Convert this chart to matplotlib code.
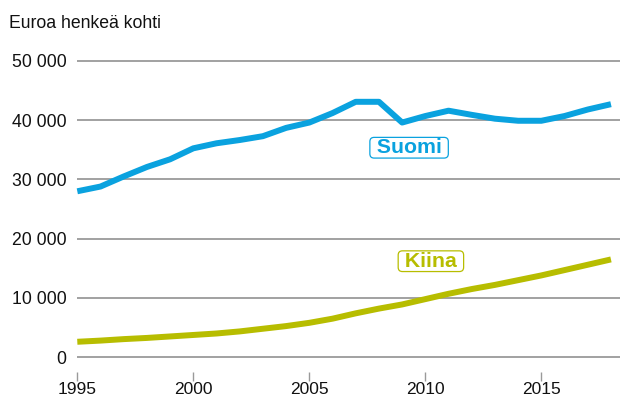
import matplotlib.pyplot as plt

plt.rcParams['font.family'] = ['Liberation Sans', 'DejaVu Sans']

# data (euroa henkeä kohti)
vuodet = list(range(1995, 2019))
suomi = [28.0, 28.8, 30.5, 32.1, 33.4, 35.25, 36.1, 36.65, 37.3, 38.7, 39.6, 41.2,
         43.1, 43.1, 39.6, 40.7, 41.6, 40.9, 40.25, 39.9, 39.9, 40.7, 41.8, 42.7]
kiina = [2.6, 2.8, 3.05, 3.25, 3.5, 3.75, 4.0, 4.35, 4.8, 5.25, 5.8, 6.5,
         7.4, 8.2, 8.9, 9.8, 10.7, 11.5, 12.2, 13.0, 13.8, 14.7, 15.6, 16.5]
suomi = [v * 1000 for v in suomi]
kiina = [v * 1000 for v in kiina]

y_ticks = [0, 10000, 20000, 30000, 40000, 50000]
y_labels = ['0', '10 000', '20 000', '30 000', '40 000', '50 000']
x_ticks = [1995, 2000, 2005, 2010, 2015]

blue = '#0aa2df'
olive = '#b7bd00'
grid_col = '#9a9a9a'

fig = plt.figure(figsize=(6.2, 4.01), dpi=100)
ax = fig.add_axes([77.3 / 620, 1 - 372 / 401, 1 - 77.3 / 620, (372 - 55) / 401])

for y in y_ticks:
    ax.axhline(y, color=grid_col, linewidth=1.3, zorder=1)

ax.plot(vuodet, suomi, color=blue, linewidth=4.3, solid_capstyle='butt', zorder=3, clip_on=False)
ax.plot(vuodet, kiina, color=olive, linewidth=4.3, solid_capstyle='butt', zorder=3, clip_on=False)

ax.set_xlim(1995, 2018.39)
ax.set_ylim(-2500, 51000)

for s in ax.spines.values():
    s.set_visible(False)

ax.set_yticks(y_ticks)
ax.set_yticklabels(y_labels)
ax.tick_params(axis='y', length=0, pad=7.7, labelsize=12.7, labelcolor='#111111')
ax.set_xticks(x_ticks)
ax.tick_params(axis='x', length=6.2, width=1, color=grid_col, pad=0.8, labelsize=12.5, labelcolor='#111111')

# series labels in rounded boxes
ax.text(2009.3, 35350, ' Suomi ', color=blue, fontsize=15.3, fontweight='bold', ha='center', va='center',
        bbox=dict(boxstyle='round,pad=0.04,rounding_size=0.2', facecolor='white', edgecolor=blue, linewidth=0.9))
ax.text(2010.24, 16200, ' Kiina ', color=olive, fontsize=15.3, fontweight='bold', ha='center', va='center',
        bbox=dict(boxstyle='round,pad=0.04,rounding_size=0.2', facecolor='white', edgecolor=olive, linewidth=0.9))

fig.text(9 / 620, 1 - 28.3 / 401, 'Euroa henkeä kohti', fontsize=12.7, color='#111111', ha='left', va='baseline')

fig.savefig('out.png', dpi=100)
